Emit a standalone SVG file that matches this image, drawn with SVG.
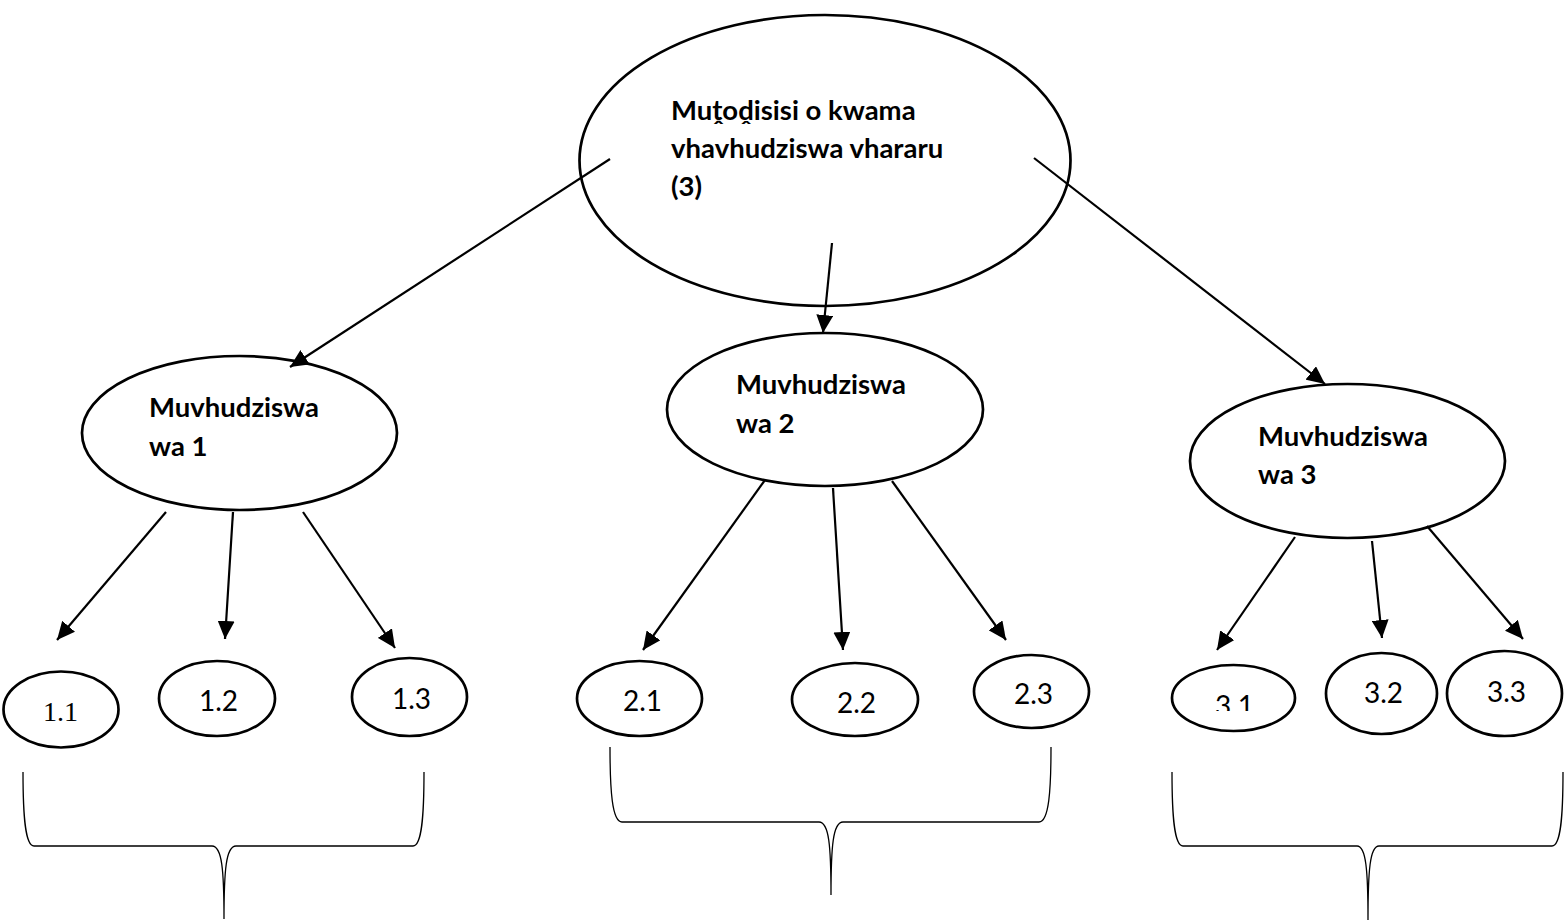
<svg xmlns="http://www.w3.org/2000/svg" width="1567" height="921" viewBox="0 0 1567 921">
<style>
.node ellipse{fill:#fff;stroke:#000;stroke-width:2.7}
.lbl{font-family:Lato,"Liberation Sans",sans-serif;font-weight:bold;font-size:27.5px;fill:#000}
.num{font-family:Lato,"Liberation Sans",sans-serif;font-size:28px;fill:#000}
.serif{font-family:"Liberation Serif",serif;font-size:28px;fill:#000}
.conn line{stroke:#000;stroke-width:2.2}
.brace{fill:none;stroke:#000;stroke-width:1.3}
</style>
<defs>
<marker id="ah" markerUnits="userSpaceOnUse" markerWidth="19" markerHeight="17" refX="18" refY="8.5" orient="auto">
<path d="M0,0 L18,8.5 L0,17 z" fill="#000"/>
</marker>
<clipPath id="clip31"><rect x="1180" y="680" width="110" height="31"/></clipPath>
</defs>
<rect width="1567" height="921" fill="#fff"/>

<g id="root" class="node">
<ellipse cx="825" cy="160.5" rx="245.5" ry="145.5"/>
<text class="lbl" x="671" y="120">Muṱoḓisisi o kwama</text>
<text class="lbl" x="671" y="158">vhavhudziswa vhararu</text>
<text class="lbl" x="671" y="196">(3)</text>
</g>

<g id="m1" class="node">
<ellipse cx="239.5" cy="433" rx="157.5" ry="77"/>
<text class="lbl" x="149" y="417">Muvhudziswa</text>
<text class="lbl" x="149" y="456">wa 1</text>
</g>
<g id="m2" class="node">
<ellipse cx="825" cy="409.5" rx="158" ry="76.5"/>
<text class="lbl" x="736" y="394">Muvhudziswa</text>
<text class="lbl" x="736" y="433">wa 2</text>
</g>
<g id="m3" class="node">
<ellipse cx="1347.5" cy="461" rx="157.5" ry="77"/>
<text class="lbl" x="1258" y="446">Muvhudziswa</text>
<text class="lbl" x="1258" y="484">wa 3</text>
</g>

<g id="n11" class="node"><ellipse cx="61" cy="709.5" rx="57.5" ry="38"/><text class="serif" x="43" y="721">1.1</text></g>
<g id="n12" class="node"><ellipse cx="217" cy="698.5" rx="58" ry="37.5"/><text class="num" x="199" y="711">1.2</text></g>
<g id="n13" class="node"><ellipse cx="409.5" cy="697" rx="57.5" ry="39"/><text class="num" x="392" y="709">1.3</text></g>
<g id="n21" class="node"><ellipse cx="639.5" cy="698.5" rx="62.5" ry="37.5"/><text class="num" x="623" y="711">2.1</text></g>
<g id="n22" class="node"><ellipse cx="855" cy="699.5" rx="63" ry="36.5"/><text class="num" x="837" y="713">2.2</text></g>
<g id="n23" class="node"><ellipse cx="1031.5" cy="691.5" rx="57.5" ry="36.5"/><text class="num" x="1014" y="704">2.3</text></g>
<g id="n31" class="node"><ellipse cx="1233.5" cy="698" rx="61.5" ry="33"/><text class="num" x="1215" y="716" clip-path="url(#clip31)">3.1</text></g>
<g id="n32" class="node"><ellipse cx="1381.5" cy="693.5" rx="55.5" ry="40.5"/><text class="num" x="1364" y="703">3.2</text></g>
<g id="n33" class="node"><ellipse cx="1504.5" cy="693.5" rx="57.5" ry="42.5"/><text class="num" x="1487" y="702">3.3</text></g>

<g id="connectors" class="conn">
<line x1="610" y1="159" x2="290" y2="367" marker-end="url(#ah)"/>
<line x1="832" y1="243" x2="823" y2="333" marker-end="url(#ah)"/>
<line x1="1034" y1="158" x2="1325" y2="384" marker-end="url(#ah)"/>
<line x1="166" y1="512" x2="57" y2="640" marker-end="url(#ah)"/>
<line x1="233" y1="512" x2="225" y2="639" marker-end="url(#ah)"/>
<line x1="303" y1="512" x2="395" y2="648" marker-end="url(#ah)"/>
<line x1="765" y1="480" x2="643" y2="650" marker-end="url(#ah)"/>
<line x1="833" y1="488" x2="843" y2="650" marker-end="url(#ah)"/>
<line x1="892" y1="481" x2="1006" y2="640" marker-end="url(#ah)"/>
<line x1="1295" y1="537" x2="1217" y2="650" marker-end="url(#ah)"/>
<line x1="1372" y1="541" x2="1382" y2="638" marker-end="url(#ah)"/>
<line x1="1427" y1="526" x2="1523" y2="639" marker-end="url(#ah)"/>
</g>

<g id="braces">
<path class="brace" d="M23,772 C23,815 25,846 34,846 L212,846 C222,846 224,870 224,919 M424,772 C424,815 422,846 413,846 L236,846 C226,846 224,870 224,919"/>
<path class="brace" d="M610,747 C610,790 612,822 622,822 L819,822 C829,822 831,846 831,895 M1051,747 C1051,790 1049,822 1039,822 L843,822 C833,822 831,846 831,895"/>
<path class="brace" d="M1172,772 C1172,815 1174,846 1183,846 L1357,846 C1366,846 1368,870 1368,920 M1563,772 C1563,815 1561,846 1552,846 L1379,846 C1370,846 1368,870 1368,920"/>
</g>
</svg>
